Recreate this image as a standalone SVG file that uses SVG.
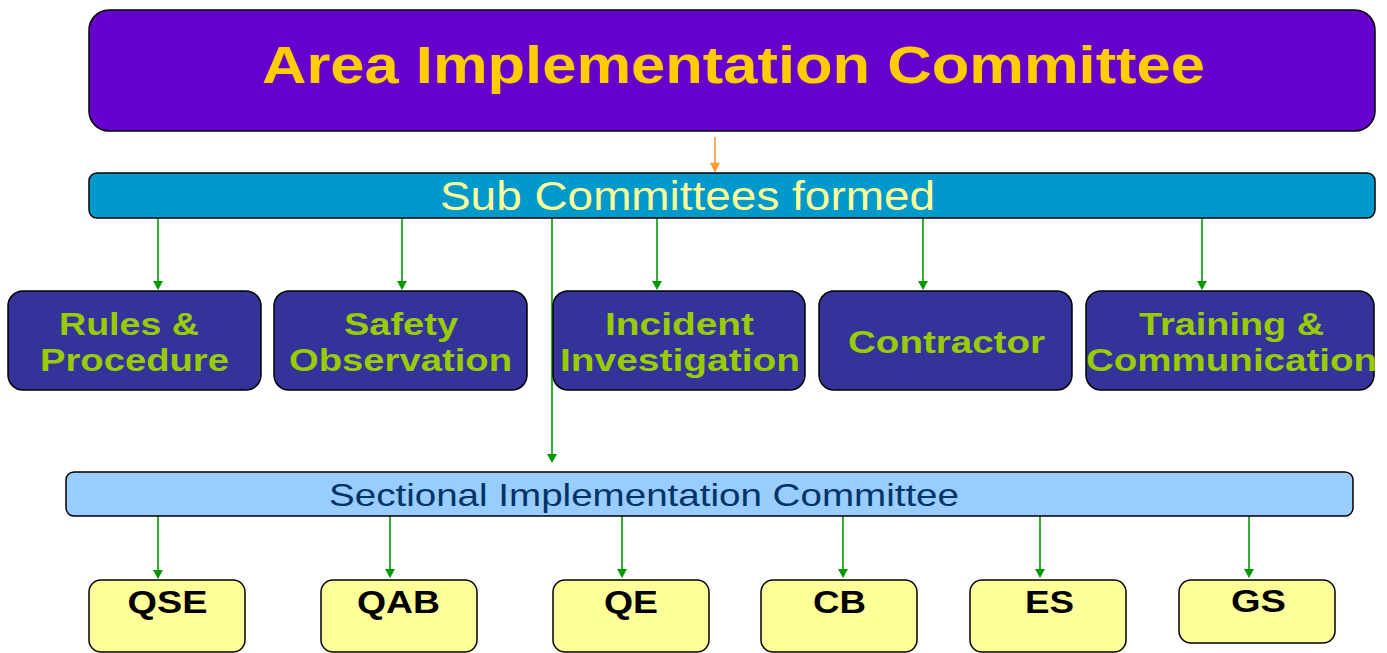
<svg xmlns="http://www.w3.org/2000/svg" width="1387" height="653" viewBox="0 0 1387 653">
<style>
text{font-family:"Liberation Sans",Arial,sans-serif;text-anchor:middle}
.b{stroke:#000;stroke-width:1.5}
.top{fill:#6600CC}
.sub{fill:#0099CC}
.grp{fill:#333399}
.sec{fill:#99CCFF}
.leaf{fill:#FFFF99}
.tt{font-size:51px;font-weight:bold;fill:#FFCC00}
.st{font-size:41px;fill:#FFFF99}
.gt{font-size:31px;font-weight:bold;fill:#99CC00}
.sct{font-size:32px;fill:#003366}
.lt{font-size:31px;font-weight:bold;fill:#000}
.gl{stroke:#009900;stroke-width:1.6;fill:none}
.o{stroke:#FF9933;stroke-width:1.6;fill:none;marker-end:url(#oa)}
</style>
<defs>
<marker id="oa" markerUnits="userSpaceOnUse" markerWidth="12" markerHeight="10" refX="10" refY="6" orient="auto" viewBox="0 0 12 12"><path d="M0,0 L12,6 L0,12 Z" fill="#FF9933"/></marker>
</defs>
<g id="connectors">
<line class="o" x1="715" y1="137" x2="715" y2="171"/>
<path class="gl" d="M158,218 V282"/>
<path class="gl" d="M402,218 V282"/>
<path class="gl" d="M657,218 V282"/>
<path class="gl" d="M923,218 V282"/>
<path class="gl" d="M1202,218 V282"/>
<path class="gl" d="M552,218 V455"/>
<path class="gl" d="M158,516 V571"/>
<path class="gl" d="M390,516 V570"/>
<path class="gl" d="M622,516 V570"/>
<path class="gl" d="M843,516 V570"/>
<path class="gl" d="M1040,516 V570"/>
<path class="gl" d="M1249,516 V570"/>
<g fill="#009900">
<path d="M153,281 L163,281 L158,290 Z"/>
<path d="M397,281 L407,281 L402,290 Z"/>
<path d="M652,281 L662,281 L657,290 Z"/>
<path d="M918,281 L928,281 L923,290 Z"/>
<path d="M1197,281 L1207,281 L1202,290 Z"/>
<path d="M547,454 L557,454 L552,463 Z"/>
<path d="M153,570 L163,570 L158,579 Z"/>
<path d="M385,569 L395,569 L390,578 Z"/>
<path d="M617,569 L627,569 L622,578 Z"/>
<path d="M838,569 L848,569 L843,578 Z"/>
<path d="M1035,569 L1045,569 L1040,578 Z"/>
<path d="M1244,569 L1254,569 L1249,578 Z"/>
</g>
</g>
<g id="area"><rect class="top b" x="89" y="10" width="1286" height="121" rx="20"/><text class="tt" x="733.5" y="83" textLength="943" lengthAdjust="spacingAndGlyphs">Area Implementation Committee</text></g>
<g id="subcommittees"><rect class="sub b" x="89" y="173" width="1286" height="45" rx="8"/><text class="st" x="687.5" y="210" textLength="495" lengthAdjust="spacingAndGlyphs">Sub Committees formed</text></g>
<g id="rules"><rect class="grp b" x="8" y="291" width="253" height="99" rx="15"/><text class="gt" x="129" y="335" textLength="140" lengthAdjust="spacingAndGlyphs">Rules &amp;</text><text class="gt" x="134.5" y="371" textLength="189" lengthAdjust="spacingAndGlyphs">Procedure</text></g>
<g id="safety"><rect class="grp b" x="274" y="291" width="253" height="99" rx="15"/><text class="gt" x="401" y="335" textLength="114" lengthAdjust="spacingAndGlyphs">Safety</text><text class="gt" x="400.5" y="371" textLength="223" lengthAdjust="spacingAndGlyphs">Observation</text></g>
<g id="incident"><rect class="grp b" x="553" y="291" width="252" height="99" rx="15"/><text class="gt" x="679.5" y="335" textLength="149" lengthAdjust="spacingAndGlyphs">Incident</text><text class="gt" x="680" y="371" textLength="240" lengthAdjust="spacingAndGlyphs">Investigation</text></g>
<g id="contractor"><rect class="grp b" x="819" y="291" width="253" height="99" rx="15"/><text class="gt" x="946.5" y="353" textLength="197" lengthAdjust="spacingAndGlyphs">Contractor</text></g>
<g id="training"><rect class="grp b" x="1086" y="291" width="288" height="99" rx="15"/><text class="gt" x="1231.5" y="335" textLength="185" lengthAdjust="spacingAndGlyphs">Training &amp;</text><text class="gt" x="1231.5" y="371" textLength="291" lengthAdjust="spacingAndGlyphs">Communication</text></g>
<g id="sectional"><rect class="sec b" x="66" y="472" width="1287" height="44" rx="8"/><text class="sct" x="644" y="506" textLength="630" lengthAdjust="spacingAndGlyphs">Sectional Implementation Committee</text></g>
<g id="qse"><rect class="leaf b" x="89" y="580" width="156" height="72" rx="12"/><text class="lt" x="167.5" y="613" textLength="80" lengthAdjust="spacingAndGlyphs">QSE</text></g>
<g id="qab"><rect class="leaf b" x="321" y="580" width="156" height="72" rx="12"/><text class="lt" x="398.5" y="613" textLength="83" lengthAdjust="spacingAndGlyphs">QAB</text></g>
<g id="qe"><rect class="leaf b" x="553" y="580" width="156" height="72" rx="12"/><text class="lt" x="631" y="613" textLength="54" lengthAdjust="spacingAndGlyphs">QE</text></g>
<g id="cb"><rect class="leaf b" x="761" y="580" width="156" height="72" rx="12"/><text class="lt" x="839.5" y="613" textLength="53" lengthAdjust="spacingAndGlyphs">CB</text></g>
<g id="es"><rect class="leaf b" x="970" y="580" width="156" height="72" rx="12"/><text class="lt" x="1049.5" y="613" textLength="49" lengthAdjust="spacingAndGlyphs">ES</text></g>
<g id="gs"><rect class="leaf b" x="1179" y="580" width="156" height="63" rx="12"/><text class="lt" x="1258.5" y="612" textLength="55" lengthAdjust="spacingAndGlyphs">GS</text></g>
</svg>
